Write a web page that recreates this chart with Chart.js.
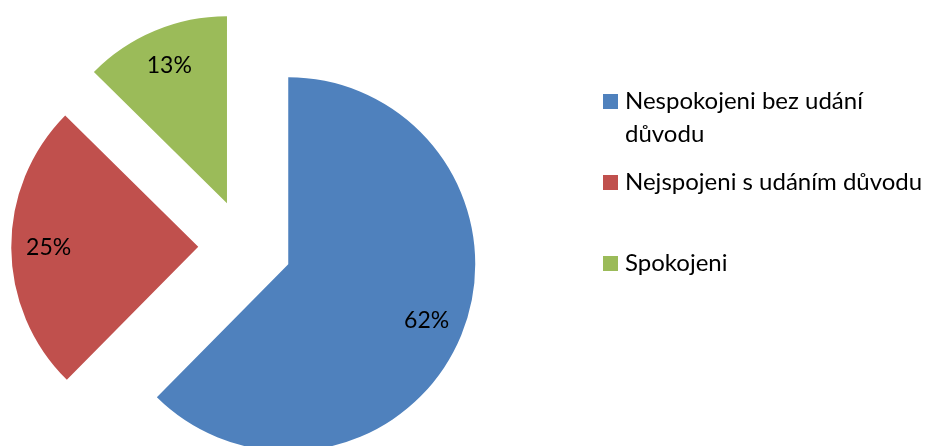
<!DOCTYPE html>
<html>
<head>
<meta charset="utf-8">
<script src="https://cdn.jsdelivr.net/npm/chart.js@4/dist/chart.umd.min.js"></script>
<style>
	html, body { margin: 0; padding: 0; background: #fff; }
	#wrap { position: relative; width: 933px; height: 446px; overflow: hidden; }
	#legend { position: absolute; left: 603px; top: 0; font-family: Lato, "Open Sans", sans-serif; font-size: 24px; line-height: 33px; color: #000; }
	.item { position: absolute; left: 0; width: 330px; }
	.box { position: absolute; left: 0; top: 11px; width: 15px; height: 15px; }
	.txt { margin-left: 22px; width: 308px; }
</style>
</head>
<body>
<div id="wrap">
	<canvas id="chart" width="933" height="446"></canvas>
	<div id="legend"></div>
</div>
<script>
// data
var categories = ['Nespokojeni bez udání důvodu', 'Nejspojeni s udáním důvodu', 'Spokojeni'];
var values = [62.4, 25.0, 12.6];
var colors = ['#4F81BD', '#C0504D', '#9BBB59'];

var explodeRatio = 0.25;   // each slice pulled out by a quarter of the radius
var labelRatio = 0.8;

// moves every slice out along its own mid angle
var explodePlugin = {
	id: 'explode',
	beforeDatasetDraw: function(chart, args) {
		var area = chart.chartArea;
		var cx = (area.left + area.right) / 2;
		var cy = (area.top + area.bottom) / 2;
		args.meta.data.forEach(function(arc) {
			var mid = (arc.startAngle + arc.endAngle) / 2;
			var d = arc.outerRadius * explodeRatio;
			arc.x = cx + Math.cos(mid) * d;
			arc.y = cy + Math.sin(mid) * d;
		});
	}
};

// percent labels inside the slices
var labelPlugin = {
	id: 'pctLabels',
	afterDatasetsDraw: function(chart) {
		var ctx = chart.ctx;
		var meta = chart.getDatasetMeta(0);
		var data = chart.data.datasets[0].data;
		var total = data.reduce(function(a, b) { return a + b; }, 0);
		ctx.save();
		ctx.font = '23px Lato, "Open Sans", sans-serif';
		ctx.fillStyle = '#000';
		ctx.textAlign = 'center';
		ctx.textBaseline = 'middle';
		meta.data.forEach(function(arc, i) {
			var mid = (arc.startAngle + arc.endAngle) / 2;
			var r = arc.outerRadius * labelRatio;
			ctx.fillText(Math.round(data[i] / total * 100) + '%', arc.x + Math.cos(mid) * r, arc.y + Math.sin(mid) * r);
		});
		ctx.restore();
	}
};

var legend = document.getElementById('legend');
var itemTops = [83, 164, 245];
categories.forEach(function(c, i) {
	var item = document.createElement('div');
	item.className = 'item';
	item.style.top = itemTops[i] + 'px';
	item.innerHTML = '<div class="box" style="background:' + colors[i] + '"></div><div class="txt">' + c + '</div>';
	legend.appendChild(item);
});

new Chart(document.getElementById('chart'), {
	type: 'pie',
	data: {
		labels: categories,
		datasets: [{
			data: values,
			backgroundColor: colors,
			borderWidth: 0,
			clip: false
		}]
	},
	options: {
		responsive: false,
		animation: false,
		events: [],
		radius: 187,
		layout: { padding: { left: 0, right: 443, top: 47, bottom: 0 } },
		plugins: {
			legend: { display: false },
			tooltip: { enabled: false }
		}
	},
	plugins: [explodePlugin, labelPlugin]
});
</script>
</body>
</html>
